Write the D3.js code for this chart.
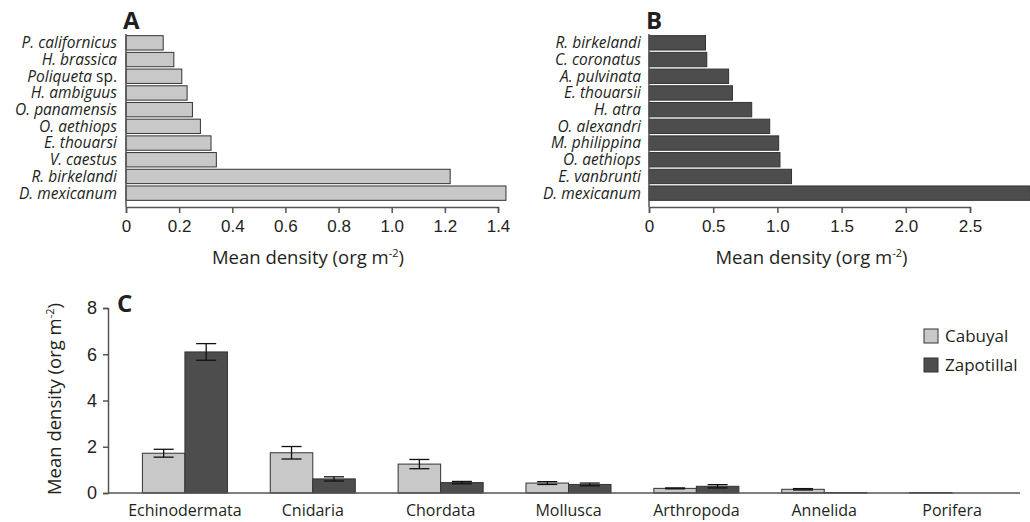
<!DOCTYPE html>
<html>
<head>
<meta charset="utf-8">
<script src="https://cdn.jsdelivr.net/npm/d3@7"></script>
<style>
  body { margin: 0; background: #fff; }
  svg { display: block; font-family: "Open Sans", "Noto Sans", sans-serif; }
</style>
</head>
<body>
<svg id="chart" width="1030" height="522"></svg>
<script>
// panel A - Cabuyal species
const speciesA = ["P. californicus", "H. brassica", "Poliqueta sp.", "H. ambiguus", "O. panamensis",
  "O. aethiops", "E. thouarsi", "V. caestus", "R. birkelandi", "D. mexicanum"];
const densityA = [0.14, 0.18, 0.21, 0.23, 0.25, 0.28, 0.32, 0.34, 1.22, 1.43];
const ticksA = [0, 0.2, 0.4, 0.6, 0.8, 1.0, 1.2, 1.4];

// panel B - Zapotillal species
const speciesB = ["R. birkelandi", "C. coronatus", "A. pulvinata", "E. thouarsii", "H. atra",
  "O. alexandri", "M. philippina", "O. aethiops", "E. vanbrunti", "D. mexicanum"];
const densityB = [0.44, 0.45, 0.62, 0.65, 0.80, 0.94, 1.01, 1.02, 1.11, 2.97];
const ticksB = [0, 0.5, 1.0, 1.5, 2.0, 2.5];

// panel C - phyla
const phyla = ["Echinodermata", "Cnidaria", "Chordata", "Mollusca", "Arthropoda", "Annelida", "Porifera"];
const sites = ["Cabuyal", "Zapotillal"];
const cabuyal = [1.72, 1.74, 1.25, 0.43, 0.20, 0.16, 0.02];
const cabuyalErr = [0.17, 0.27, 0.20, 0.06, 0.02, 0.03, 0];
const zapotillal = [6.10, 0.61, 0.45, 0.37, 0.29, 0.02, 0];
const zapotillalErr = [0.36, 0.09, 0.05, 0.06, 0.07, 0, 0];
const ticksC = [0, 2, 4, 6, 8];

const light = "#c8c8c8", dark = "#4d4d4d", ink = "#231f20";
const svg = d3.select("#chart");

function speciesPanel(names, values, ticks, x0, x1, axisMax, fill, labelX, title, titleShift) {
  const x = d3.scaleLinear().domain([0, axisMax]).range([x0, x1]);
  const y = d3.scaleBand().domain(names).range([35, 201]).paddingInner(0.14).paddingOuter(0.04);
  const g = svg.append("g");

  g.selectAll("rect.bar")
    .data(names)
    .enter()
    .append("rect")
    .attr("class", "bar")
    .attr("x", x(0))
    .attr("y", d => y(d))
    .attr("width", (d, i) => x(values[i]) - x(0))
    .attr("height", y.bandwidth())
    .attr("fill", fill)
    .attr("stroke", "#333")
    .attr("stroke-width", 1);

  g.selectAll("text.name")
    .data(names)
    .enter()
    .append("text")
    .attr("class", "name")
    .attr("x", labelX)
    .attr("y", d => y(d) + y.bandwidth() / 2)
    .attr("dy", "0.35em")
    .attr("text-anchor", "end")
    .attr("font-size", 15.5)
    .attr("fill", ink)
    .each(function (d) {
      const t = d3.select(this);
      if (d.endsWith(" sp.")) {
        t.append("tspan").attr("font-style", "italic").text(d.replace(" sp.", ""));
        t.append("tspan").text(" sp.");
      } else {
        t.attr("font-style", "italic").text(d);
      }
    });

  // y axis line (no ticks)
  g.append("line")
    .attr("x1", x(0)).attr("x2", x(0))
    .attr("y1", 34).attr("y2", 207)
    .attr("stroke", "#555").attr("stroke-width", 1.5);

  const axis = g.append("g")
    .attr("transform", "translate(0,207)")
    .call(d3.axisBottom(x).tickValues(ticks).tickSize(6).tickPadding(7)
      .tickFormat(d => d === 0 ? "0" : d3.format(".1f")(d)));
  axis.select(".domain").attr("stroke", "#555").attr("stroke-width", 1.5);
  axis.selectAll(".tick line").attr("stroke", "#555").attr("stroke-width", 1.5);
  axis.selectAll(".tick text").attr("font-size", 17).attr("fill", ink).attr("font-family", null);

  const tt = g.append("text")
    .attr("x", (x(0) + x(axisMax)) / 2 + titleShift)
    .attr("y", 264)
    .attr("text-anchor", "middle")
    .attr("font-size", 18.5)
    .attr("fill", ink)
    .text("Mean density (org m");
  tt.append("tspan").attr("baseline-shift", "super").attr("font-size", 11).text("-2");
  tt.append("tspan").text(")");

  svg.append("text")
    .attr("x", x(0) - 3).attr("y", 29)
    .attr("font-size", 24).attr("font-weight", "bold").attr("fill", ink)
    .text(title);
}

speciesPanel(speciesA, densityA, ticksA, 126, 498, 1.4, light, 117, "A", -4);
speciesPanel(speciesB, densityB, ticksB, 649, 970, 2.5, dark, 641, "B", 2);

// panel C
const yC = d3.scaleLinear().domain([0, 8]).range([493, 308]);
const xC = d3.scaleBand().domain(phyla).range([121, 1016]).paddingInner(0.335).paddingOuter(0.1675);
const xSub = d3.scaleBand().domain(sites).range([0, xC.bandwidth()]);
const gC = svg.append("g");

const rows = phyla.map((p, i) => ({
  phylum: p,
  vals: [
    { site: "Cabuyal", v: cabuyal[i], e: cabuyalErr[i] },
    { site: "Zapotillal", v: zapotillal[i], e: zapotillalErr[i] }
  ]
}));

const groups = gC.selectAll("g.group")
  .data(rows)
  .enter()
  .append("g")
  .attr("class", "group")
  .attr("transform", d => "translate(" + xC(d.phylum) + ",0)");

groups.selectAll("rect")
  .data(d => d.vals.filter(v => v.v > 0))
  .enter()
  .append("rect")
  .attr("x", d => xSub(d.site))
  .attr("y", d => yC(d.v))
  .attr("width", xSub.bandwidth())
  .attr("height", d => yC(0) - yC(d.v))
  .attr("fill", d => d.site === "Cabuyal" ? light : dark)
  .attr("stroke", "#333")
  .attr("stroke-width", 1);

const errs = groups.selectAll("g.err")
  .data(d => d.vals.filter(v => v.e > 0))
  .enter()
  .append("g")
  .attr("class", "err")
  .attr("stroke", "#111")
  .attr("stroke-width", 1.3);
errs.append("line")
  .attr("x1", d => xSub(d.site) + xSub.bandwidth() / 2)
  .attr("x2", d => xSub(d.site) + xSub.bandwidth() / 2)
  .attr("y1", d => yC(d.v + d.e)).attr("y2", d => yC(d.v - d.e));
errs.append("line")
  .attr("x1", d => xSub(d.site) + xSub.bandwidth() / 2 - 10)
  .attr("x2", d => xSub(d.site) + xSub.bandwidth() / 2 + 10)
  .attr("y1", d => yC(d.v + d.e)).attr("y2", d => yC(d.v + d.e));
errs.append("line")
  .attr("x1", d => xSub(d.site) + xSub.bandwidth() / 2 - 10)
  .attr("x2", d => xSub(d.site) + xSub.bandwidth() / 2 + 10)
  .attr("y1", d => yC(d.v - d.e)).attr("y2", d => yC(d.v - d.e));

// x axis line and labels
gC.append("line")
  .attr("x1", 108).attr("x2", 1020)
  .attr("y1", yC(0)).attr("y2", yC(0))
  .attr("stroke", "#555").attr("stroke-width", 1.5);
gC.selectAll("text.phylum")
  .data(phyla)
  .enter()
  .append("text")
  .attr("class", "phylum")
  .attr("x", d => xC(d) + xC.bandwidth() / 2)
  .attr("y", 516)
  .attr("text-anchor", "middle")
  .attr("font-size", 16)
  .attr("fill", ink)
  .text(d => d);

const yAxis = gC.append("g")
  .attr("transform", "translate(108,0)")
  .call(d3.axisLeft(yC).tickValues(ticksC).tickSize(5).tickPadding(6));
yAxis.select(".domain").attr("stroke", "#555").attr("stroke-width", 1.5);
yAxis.selectAll(".tick line").attr("stroke", "#555").attr("stroke-width", 1.5);
yAxis.selectAll(".tick text").attr("font-size", 18).attr("fill", ink).attr("font-family", null);

const yt = gC.append("text")
  .attr("transform", "translate(61,399) rotate(-90)")
  .attr("text-anchor", "middle")
  .attr("font-size", 18.5)
  .attr("fill", ink)
  .text("Mean density (org m");
yt.append("tspan").attr("baseline-shift", "super").attr("font-size", 11).text("-2");
yt.append("tspan").text(")");

svg.append("text")
  .attr("x", 117).attr("y", 312)
  .attr("font-size", 24).attr("font-weight", "bold").attr("fill", ink)
  .text("C");

// legend
const legend = svg.append("g").attr("transform", "translate(924,329)");
sites.forEach((s, i) => {
  legend.append("rect")
    .attr("x", 0).attr("y", i * 29)
    .attr("width", 14).attr("height", 14)
    .attr("fill", i === 0 ? light : dark)
    .attr("stroke", "#333");
  legend.append("text")
    .attr("x", 21).attr("y", i * 29 + 7)
    .attr("dy", "0.35em")
    .attr("font-size", 17)
    .attr("fill", ink)
    .text(s);
});
</script>
</body>
</html>
